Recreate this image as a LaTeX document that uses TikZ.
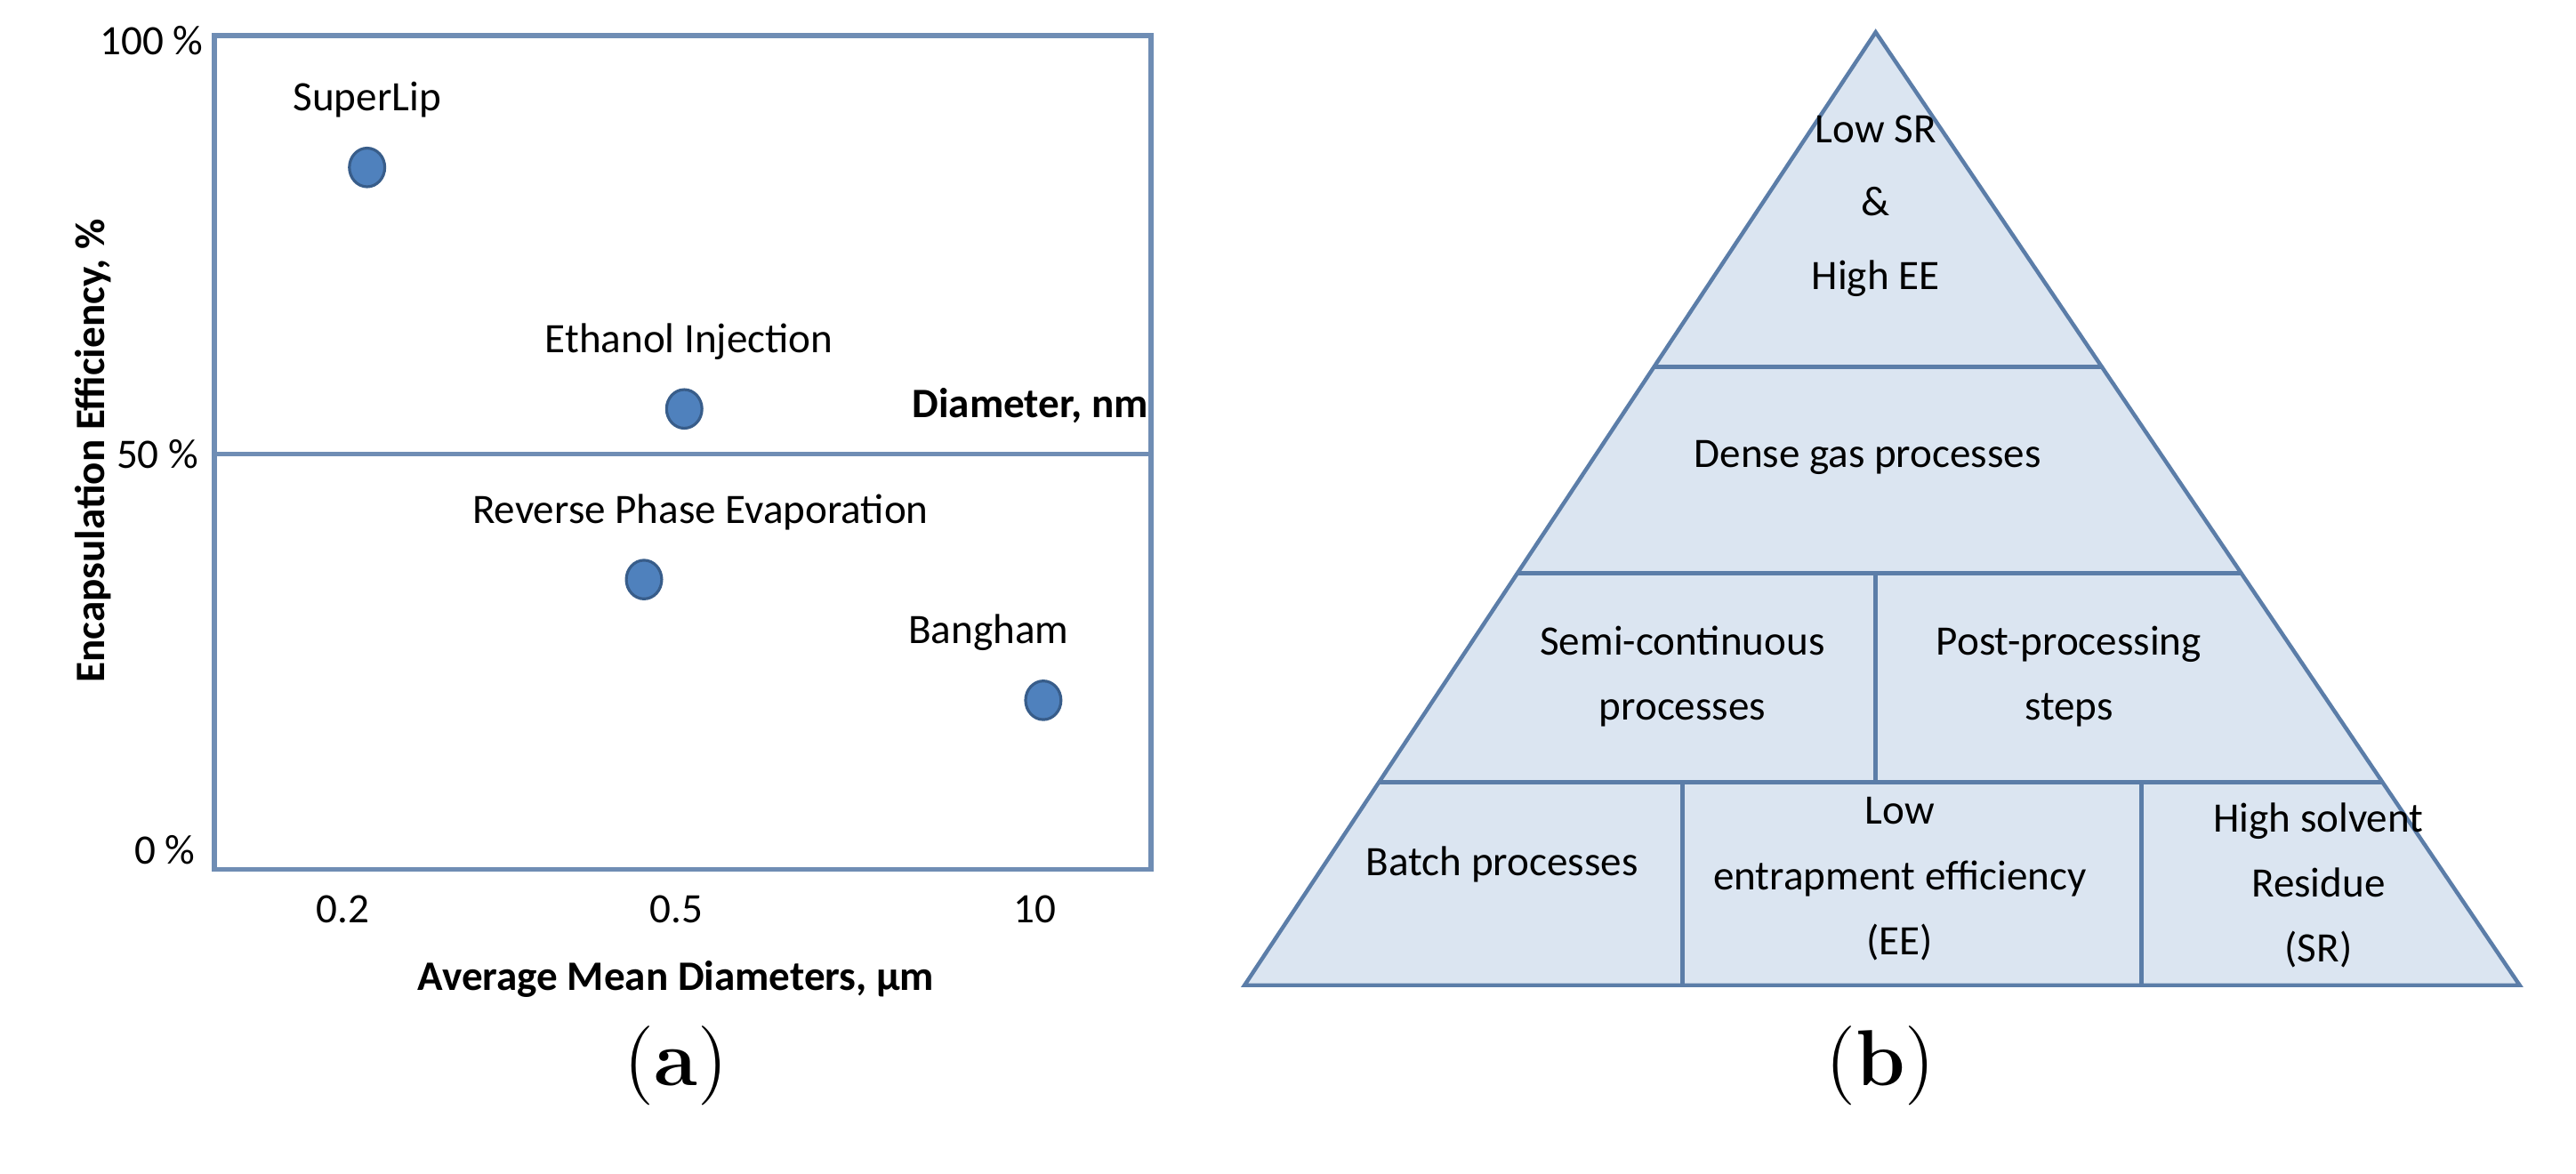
\documentclass[tikz,border=0pt]{standalone}
\usepackage{fontspec}
\setmainfont{Carlito}
\newfontfamily\lmr{Latin Modern Roman}
\begin{document}
\begin{tikzpicture}[x=0.01cm,y=-0.01cm,
 ax/.style={draw=axc,line width=0.9pt},
 dot/.style={fill=dotf,draw=dotd,line width=0.5pt},
 lbl/.style={font=\fontsize{7.4}{9}\selectfont,align=center,inner sep=0},
 bl/.style={font=\fontsize{7.4}{9}\selectfont\bfseries,inner sep=0},
 ml/.style={lbl,font=\fontsize{7.4}{11.5}\selectfont},
 tri/.style={draw=trid,line width=0.7pt}]
\definecolor{axc}{HTML}{6F8DB4}
\definecolor{dotf}{HTML}{4F81BD}
\definecolor{dotd}{HTML}{385D8A}
\definecolor{trif}{HTML}{DBE5F1}
\definecolor{trid}{HTML}{5B7DA8}
\useasboundingbox (0,0) rectangle (1600,729);
% plot
\draw[ax] (133,22) rectangle (715,540);
\draw[ax] (133,282) -- (715,282);
\node[lbl,anchor=east] (y100) at (127,25) {100 \%};
\node[lbl,anchor=east] (y50) at (124,282) {50 \%};
\node[lbl,anchor=east] (y0) at (122,528) {0 \%};
\node[bl,rotate=90] (ylab) at (58,280) {Encapsulation Efficiency, \%};
\node[lbl] (x1) at (213,565) {0.2};
\node[lbl] (x2) at (420,565) {0.5};
\node[lbl] (x3) at (643,565) {10};
\node[bl] (xlab) at (420,608) {Average Mean Diameters, µm};
\node[bl] (dn) at (640,252) {Diameter, nm};
\draw[dot] (228,104) ellipse (11 and 12) coordinate (p1);
\draw[dot] (425,254) ellipse (11 and 12) coordinate (p2);
\draw[dot] (400,360) ellipse (11 and 12) coordinate (p3);
\draw[dot] (648,435) ellipse (11 and 12) coordinate (p4);
\node[lbl] (l1) at (228,62) {SuperLip};
\node[lbl] (l2) at (428,212) {Ethanol Injection};
\node[lbl] (l3) at (435,318) {Reverse Phase Evaporation};
\node[lbl] (l4) at (614,393) {Bangham};
% pyramid
\filldraw[tri,fill=trif] (1165,20) -- (773,612) -- (1565,612) -- cycle;
\draw[tri] (1027,228) -- (1306,228);
\draw[tri] (943,356) -- (1392,356);
\draw[tri] (857,486) -- (1480,486);
\draw[tri] (1165,356) -- (1165,486);
\draw[tri] (1045,486) -- (1045,612);
\draw[tri] (1330,486) -- (1330,612);
\node[ml,font=\fontsize{7.4}{13}\selectfont] (t1) at (1165,128) {Low SR\\\&\\High EE};
\node[lbl] (t2) at (1160,284) {Dense gas processes};
\node[ml] (t3) at (1045,420) {Semi-continuous\\processes};
\node[ml] (t4) at (1285,420) {Post-processing\\steps};
\node[lbl] (t5) at (933,537) {Batch processes};
\node[ml] (t6) at (1180,546) {Low\\entrapment efficiency\\(EE)};
\node[ml] (t7) at (1440,550) {High solvent\\Residue\\(SR)};
\node[font=\fontsize{14}{16}\selectfont\lmr,inner sep=0] (a) at (420,662) {(\textbf{a})};
\node[font=\fontsize{14}{16}\selectfont\lmr,inner sep=0] (b) at (1168,662) {(\textbf{b})};
\end{tikzpicture}
\end{document}
